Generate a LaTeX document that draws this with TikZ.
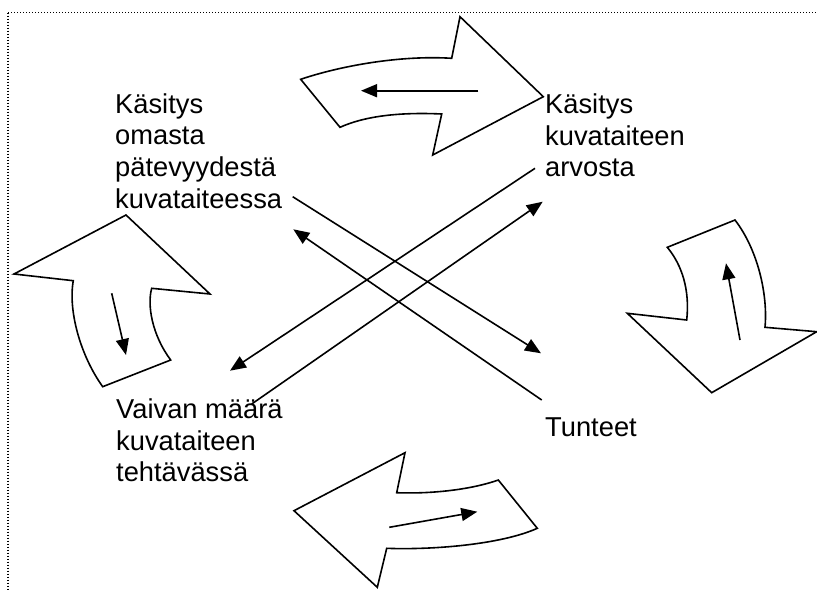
\documentclass[tikz,border=0pt]{standalone}
\usepackage{fontspec}
\setmainfont{Liberation Sans}
\usetikzlibrary{arrows.meta}
\begin{document}
\begin{tikzpicture}[x=1pt,y=-1pt,
  label/.style={anchor=base west,inner sep=0pt,align=left,
    font=\fontsize{27.3pt}{31.7pt}\selectfont},
  bigarrow/.style={draw=black,line width=1.6pt,line join=miter,fill=white},
  link/.style={line width=1.6pt,-{Triangle[length=16pt,width=13pt]}},
  frame/.style={line width=1.3pt,dash pattern=on 1.3pt off 1.7pt}]
\useasboundingbox (0,0) rectangle (817,590);

% dotted frame, cut off at the right and bottom
\begin{scope}
\clip (0,0) rectangle (817,590);
\draw[frame] (8,12.5) -- (840,12.5);
\draw[frame] (8,12.5) -- (8,600);
\end{scope}

% labels (anchored at the baseline of their last line)
\node[label] (pate) at (115,208.3) {Käsitys\\omasta\\pätevyydestä\\kuvataiteessa};
\node[label] (arvo) at (545,176.7) {Käsitys\\kuvataiteen\\arvosta};
\node[label] (vaiva) at (116,481.7) {Vaivan määrä\\kuvataiteen\\tehtävässä};
\node[label] (tunteet) at (545,436.7) {Tunteet};

% top curved arrow
\draw[bigarrow] (300.7,79.3) .. controls (340,66) and (400,55) .. (451.7,58.3)
  -- (460,16.7) -- (543.3,96.7) -- (432.7,155) -- (441.7,114)
  .. controls (400,112) and (365,116) .. (340,127.3) -- cycle;
% left curved arrow
\draw[bigarrow] (126,215) -- (210,294) -- (151.7,288.3)
  .. controls (147,305) and (152,335) .. (170.7,360) -- (102.7,386.7)
  .. controls (80,355) and (68,310) .. (73.3,280.7) -- (14,274) -- cycle;
% right curved arrow
\draw[bigarrow] (667.3,247.3) -- (735,220)
  .. controls (758,250) and (768,295) .. (765,327.3) -- (816.7,331.7)
  -- (711.7,392.7) -- (627.3,313.3) -- (686.7,320)
  .. controls (690,290) and (682,265) .. (667.3,247.3) -- cycle;
% bottom curved arrow
\draw[bigarrow] (294,510.7) -- (405,452.7) -- (396.7,492.7)
  .. controls (430,494) and (470,490) .. (498.3,480) -- (537.3,528.3)
  .. controls (500,545) and (430,550) .. (386.7,548.3) -- (377.3,587.3) -- cycle;

% small arrows inside the curved arrows
\coordinate (ta) at (478.3,90.7);  \coordinate (tb) at (361,90.7);
\coordinate (la) at (111.7,293.3); \coordinate (lb) at (126,355);
\coordinate (ra) at (740,340);     \coordinate (rb) at (726,263.3);
\coordinate (ba) at (389.3,527.3); \coordinate (bb) at (477.3,511.7);
\draw[link] (ta) -- (tb);
\draw[link] (la) -- (lb);
\draw[link] (ra) -- (rb);
\draw[link] (ba) -- (bb);

% crossing connectors between the four labels
\coordinate (p1) at (292.7,196.7); \coordinate (t1) at (541,353.3);
\coordinate (t2) at (541.7,400);   \coordinate (p2) at (293.3,229.3);
\coordinate (a1) at (535,168.3);   \coordinate (v1) at (230,370.7);
\coordinate (v2) at (251.7,404);   \coordinate (a2) at (542.7,201.7);
\draw[link] (p1) -- (t1);
\draw[link] (t2) -- (p2);
\draw[link] (a1) -- (v1);
\draw[link] (v2) -- (a2);
\end{tikzpicture}
\end{document}
